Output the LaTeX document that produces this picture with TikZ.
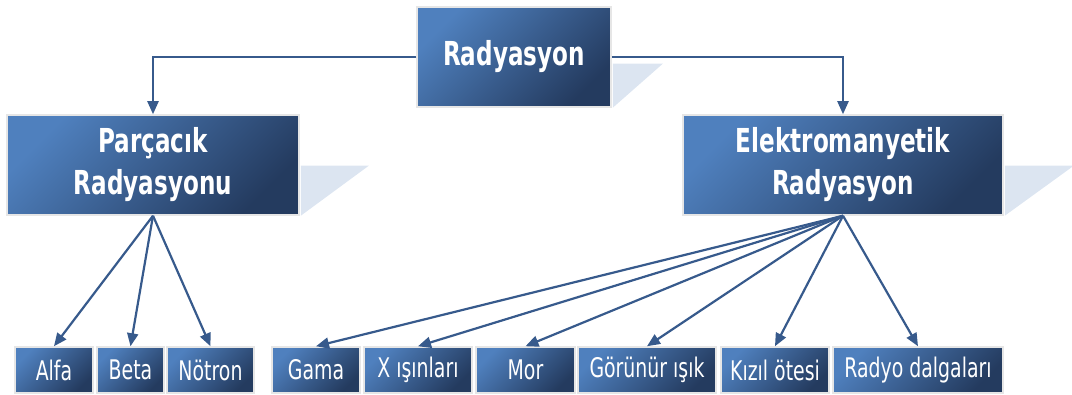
\documentclass[tikz,border=0pt]{standalone}
\usepackage{fontspec}
\setmainfont{DejaVu Sans}[FakeStretch=0.70]
\usetikzlibrary{positioning,arrows.meta}
\definecolor{boxLight}{HTML}{4F80BE}
\definecolor{boxDark}{HTML}{243B5F}
\definecolor{lineBlue}{HTML}{375A8C}
\definecolor{shadowBlue}{HTML}{DCE5F1}
\definecolor{edgeGrey}{HTML}{E6E6E6}

\tikzset{
  radbox/.style={draw=edgeGrey, line width=1.5pt, top color=boxLight, bottom color=boxDark,
    shading angle=45, text=white, inner sep=0pt, align=center,
    font=\bfseries\fontsize{33}{42}\selectfont},
  leafbox/.style={radbox, minimum height=46pt, font=\fontsize{27}{30}\selectfont},
  link/.style={lineBlue, line width=2.2pt, -{Triangle[length=13pt,width=11pt]}},
}

\begin{document}
\begin{tikzpicture}[x=1pt,y=-1pt]
  \useasboundingbox (0,0) rectangle (1072,395);
  % main boxes
  \node[radbox, minimum width=194pt, minimum height=100pt] (rad) at (514,57) {Radyasyon};
  \node[radbox, minimum width=292pt, minimum height=100pt] (parc) at (153,165) {Parçacık\\Radyasyonu};
  \node[radbox, minimum width=320pt, minimum height=100pt] (elek) at (843,165) {Elektromanyetik\\Radyasyon};
  % shadows
  \fill[shadowBlue] ([xshift=1pt]rad.south east) -- ++(0,-44) -- ++(50,0) -- cycle;
  \fill[shadowBlue] ([xshift=1pt]parc.south east) -- ++(0,-50) -- ++(68,0) -- cycle;
  \fill[shadowBlue] ([xshift=1pt]elek.south east) -- ++(0,-50) -- ++(69,0) -- cycle;
  % leaves
  \node[leafbox, minimum width=78pt] (alfa) at (54,370) {Alfa};
  \node[leafbox, minimum width=67pt] (beta) at (130.5,370) {Beta};
  \node[leafbox, minimum width=87pt] (notron) at (210.5,370) {Nötron};
  \node[leafbox, minimum width=88pt] (gama) at (316,370) {Gama};
  \node[leafbox, minimum width=108pt] (xisin) at (418,370) {X ışınları};
  \node[leafbox, minimum width=99pt] (mor) at (525.5,370) {Mor};
  \node[leafbox, minimum width=138pt] (gorunur) at (647,370) {Görünür ışık};
  \node[leafbox, minimum width=108pt] (kizil) at (775,370) {Kızıl ötesi};
  \node[leafbox, minimum width=170pt] (radyo) at (918,370) {Radyo dalgaları};
  % connectors
  \draw[link] (rad.west) -| (parc.north);
  \draw[link] (rad.east) -| (elek.north);
  \foreach \t in {alfa,beta,notron}
    \draw[link] (parc.south) -- (\t.north);
  \foreach \t in {gama,xisin,mor,gorunur,kizil,radyo}
    \draw[link] (elek.south) -- (\t.north);
\end{tikzpicture}
\end{document}
